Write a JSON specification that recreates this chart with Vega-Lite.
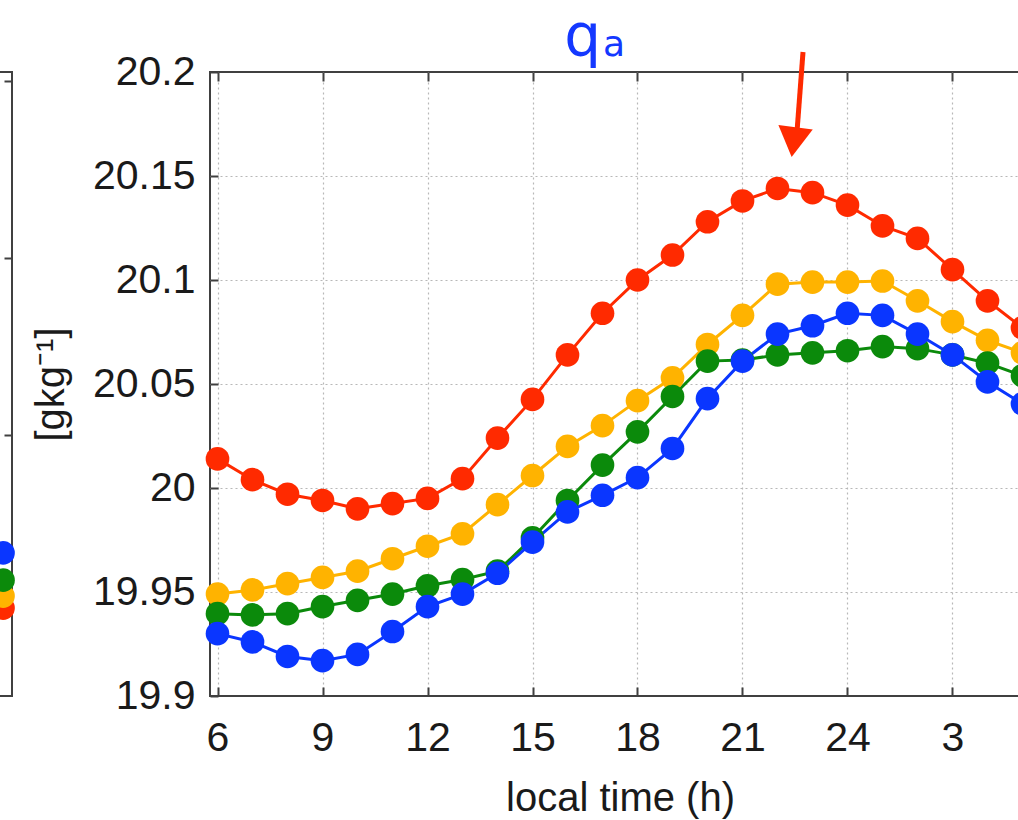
{
  "$schema": "https://vega.github.io/schema/vega-lite/v6.json",
  "background": "white",
  "padding": {"left": -29, "top": 8, "right": -18, "bottom": 0},
  "bounds": "flush",
  "spacing": 198,
  "config": {
    "view": {"stroke": "#404040", "strokeWidth": 2},
    "font": "Liberation Sans",
    "axis": {"labelFont": "Liberation Sans", "titleFont": "Liberation Sans", "labelColor": "#1a1a1a", "titleColor": "#1a1a1a"}
  },
  "datasets": {
    "left": [
      {"hour": 29, "value": 24.511, "series": "red"},
      {"hour": 29, "value": 24.545, "series": "orange"},
      {"hour": 29, "value": 24.590, "series": "green"},
      {"hour": 29, "value": 24.667, "series": "blue"}
    ],
    "main": [
      {"hour": 6, "q": 20.014, "series": "red"},
      {"hour": 7, "q": 20.004, "series": "red"},
      {"hour": 8, "q": 19.997, "series": "red"},
      {"hour": 9, "q": 19.994, "series": "red"},
      {"hour": 10, "q": 19.990, "series": "red"},
      {"hour": 11, "q": 19.9925, "series": "red"},
      {"hour": 12, "q": 19.995, "series": "red"},
      {"hour": 13, "q": 20.0045, "series": "red"},
      {"hour": 14, "q": 20.024, "series": "red"},
      {"hour": 15, "q": 20.0426, "series": "red"},
      {"hour": 16, "q": 20.064, "series": "red"},
      {"hour": 17, "q": 20.084, "series": "red"},
      {"hour": 18, "q": 20.100, "series": "red"},
      {"hour": 19, "q": 20.112, "series": "red"},
      {"hour": 20, "q": 20.128, "series": "red"},
      {"hour": 21, "q": 20.138, "series": "red"},
      {"hour": 22, "q": 20.144, "series": "red"},
      {"hour": 23, "q": 20.142, "series": "red"},
      {"hour": 24, "q": 20.136, "series": "red"},
      {"hour": 25, "q": 20.126, "series": "red"},
      {"hour": 26, "q": 20.120, "series": "red"},
      {"hour": 27, "q": 20.105, "series": "red"},
      {"hour": 28, "q": 20.090, "series": "red"},
      {"hour": 29, "q": 20.077, "series": "red"},
      {"hour": 6, "q": 19.949, "series": "orange"},
      {"hour": 7, "q": 19.951, "series": "orange"},
      {"hour": 8, "q": 19.954, "series": "orange"},
      {"hour": 9, "q": 19.957, "series": "orange"},
      {"hour": 10, "q": 19.960, "series": "orange"},
      {"hour": 11, "q": 19.966, "series": "orange"},
      {"hour": 12, "q": 19.972, "series": "orange"},
      {"hour": 13, "q": 19.978, "series": "orange"},
      {"hour": 14, "q": 19.992, "series": "orange"},
      {"hour": 15, "q": 20.006, "series": "orange"},
      {"hour": 16, "q": 20.020, "series": "orange"},
      {"hour": 17, "q": 20.030, "series": "orange"},
      {"hour": 18, "q": 20.042, "series": "orange"},
      {"hour": 19, "q": 20.053, "series": "orange"},
      {"hour": 20, "q": 20.069, "series": "orange"},
      {"hour": 21, "q": 20.083, "series": "orange"},
      {"hour": 22, "q": 20.098, "series": "orange"},
      {"hour": 23, "q": 20.099, "series": "orange"},
      {"hour": 24, "q": 20.099, "series": "orange"},
      {"hour": 25, "q": 20.0995, "series": "orange"},
      {"hour": 26, "q": 20.090, "series": "orange"},
      {"hour": 27, "q": 20.080, "series": "orange"},
      {"hour": 28, "q": 20.071, "series": "orange"},
      {"hour": 29, "q": 20.065, "series": "orange"},
      {"hour": 6, "q": 19.9396, "series": "green"},
      {"hour": 7, "q": 19.939, "series": "green"},
      {"hour": 8, "q": 19.9396, "series": "green"},
      {"hour": 9, "q": 19.943, "series": "green"},
      {"hour": 10, "q": 19.946, "series": "green"},
      {"hour": 11, "q": 19.949, "series": "green"},
      {"hour": 12, "q": 19.953, "series": "green"},
      {"hour": 13, "q": 19.956, "series": "green"},
      {"hour": 14, "q": 19.960, "series": "green"},
      {"hour": 15, "q": 19.976, "series": "green"},
      {"hour": 16, "q": 19.994, "series": "green"},
      {"hour": 17, "q": 20.011, "series": "green"},
      {"hour": 18, "q": 20.027, "series": "green"},
      {"hour": 19, "q": 20.044, "series": "green"},
      {"hour": 20, "q": 20.061, "series": "green"},
      {"hour": 21, "q": 20.0615, "series": "green"},
      {"hour": 22, "q": 20.064, "series": "green"},
      {"hour": 23, "q": 20.065, "series": "green"},
      {"hour": 24, "q": 20.066, "series": "green"},
      {"hour": 25, "q": 20.068, "series": "green"},
      {"hour": 26, "q": 20.067, "series": "green"},
      {"hour": 27, "q": 20.064, "series": "green"},
      {"hour": 28, "q": 20.060, "series": "green"},
      {"hour": 29, "q": 20.054, "series": "green"},
      {"hour": 6, "q": 19.930, "series": "blue"},
      {"hour": 7, "q": 19.926, "series": "blue"},
      {"hour": 8, "q": 19.919, "series": "blue"},
      {"hour": 9, "q": 19.917, "series": "blue"},
      {"hour": 10, "q": 19.920, "series": "blue"},
      {"hour": 11, "q": 19.931, "series": "blue"},
      {"hour": 12, "q": 19.943, "series": "blue"},
      {"hour": 13, "q": 19.949, "series": "blue"},
      {"hour": 14, "q": 19.959, "series": "blue"},
      {"hour": 15, "q": 19.974, "series": "blue"},
      {"hour": 16, "q": 19.9885, "series": "blue"},
      {"hour": 17, "q": 19.9965, "series": "blue"},
      {"hour": 18, "q": 20.005, "series": "blue"},
      {"hour": 19, "q": 20.019, "series": "blue"},
      {"hour": 20, "q": 20.043, "series": "blue"},
      {"hour": 21, "q": 20.061, "series": "blue"},
      {"hour": 22, "q": 20.074, "series": "blue"},
      {"hour": 23, "q": 20.078, "series": "blue"},
      {"hour": 24, "q": 20.084, "series": "blue"},
      {"hour": 25, "q": 20.083, "series": "blue"},
      {"hour": 26, "q": 20.074, "series": "blue"},
      {"hour": 27, "q": 20.064, "series": "blue"},
      {"hour": 28, "q": 20.051, "series": "blue"},
      {"hour": 29, "q": 20.0405, "series": "blue"}
    ],
    "arrow": [{"hour": 22.729, "hour2": 22.557, "q": 20.2096, "q2": 20.1712}],
    "arrowhead": [{"hour": 22.46, "q": 20.1663}],
    "title_q": [{"hour": 16.43, "q": 20.2077, "txt": "q"}],
    "title_a": [{"hour": 17.33, "q": 20.2077, "txt": "a"}]
  },
  "hconcat": [
    {
      "width": 40,
      "height": 624,
      "data": {"name": "left"},
      "mark": {"type": "point", "filled": true, "size": 560, "opacity": 1, "strokeWidth": 0},
      "encoding": {
        "x": {"field": "hour", "type": "quantitative", "scale": {"domain": [28.114, 29.257], "nice": false, "zero": false}, "axis": null},
        "y": {"field": "value", "type": "quantitative", "scale": {"domain": [24.2627, 26.0254], "nice": false, "zero": false},
              "axis": {"orient": "right", "values": [24.5, 25, 25.5, 26], "labels": false, "domain": false, "grid": false, "tickSize": -8, "tickWidth": 2, "tickColor": "#404040", "title": null}},
        "color": {"field": "series", "type": "nominal", "scale": {"domain": ["red", "orange", "green", "blue"], "range": ["#ff2a00", "#ffb300", "#0b8a0b", "#0a36ff"]}, "legend": null}
      }
    },
    {
      "width": 820,
      "height": 624,
      "layer": [
        {
          "data": {"name": "main"},
          "mark": {"type": "line", "strokeWidth": 3},
          "encoding": {
            "x": {"field": "hour", "type": "quantitative", "scale": {"domain": [5.7857, 29.2143], "nice": false, "zero": false},
                  "axis": {"orient": "top", "values": [6, 9, 12, 15, 18, 21, 24, 27], "labels": false, "domain": false, "grid": false, "tickSize": -9, "tickWidth": 2, "tickColor": "#404040", "title": null}},
            "y": {"field": "q", "type": "quantitative", "scale": {"domain": [19.9, 20.2], "nice": false, "zero": false},
                  "axis": {"orient": "left", "values": [19.9, 19.95, 20, 20.05, 20.1, 20.15, 20.2], "format": "~g", "labelFontSize": 41, "labelPadding": 23, "tickSize": -8, "tickWidth": 2, "tickColor": "#404040", "domain": false, "grid": true, "gridColor": "#b8b8b8", "gridDash": [2, 3], "gridWidth": 1.2, "gridOpacity": {"condition": {"test": "datum.value <= 19.9 || datum.value >= 20.2", "value": 0}, "value": 1}, "title": "[gkg⁻¹]", "titleFontSize": 40, "titleFontWeight": "normal", "titlePadding": 21}},
            "color": {"field": "series", "type": "nominal", "scale": {"domain": ["red", "orange", "green", "blue"], "range": ["#ff2a00", "#ffb300", "#0b8a0b", "#0a36ff"]}, "legend": null}
          }
        },
        {
          "data": {"name": "main"},
          "mark": {"type": "point", "filled": true, "size": 560, "opacity": 1, "strokeWidth": 0},
          "encoding": {
            "x": {"field": "hour", "type": "quantitative", "scale": {"domain": [5.7857, 29.2143], "nice": false, "zero": false},
                  "axis": {"orient": "bottom", "values": [6, 9, 12, 15, 18, 21, 24, 27], "labelExpr": "datum.value > 24 ? datum.value - 24 : datum.value", "labelFlush": false, "labelFontSize": 41, "labelPadding": 31, "tickSize": -9, "tickWidth": 2, "tickColor": "#404040", "domain": false, "grid": true, "gridColor": "#b8b8b8", "gridDash": [2, 3], "gridWidth": 1.2, "title": "local time (h)", "titleFontSize": 40, "titleFontWeight": "normal", "titlePadding": 20}},
            "y": {"field": "q", "type": "quantitative", "scale": {"domain": [19.9, 20.2], "nice": false, "zero": false},
                  "axis": {"orient": "left", "values": [19.9, 19.95, 20, 20.05, 20.1, 20.15, 20.2], "format": "~g", "labelFontSize": 41, "labelPadding": 23, "tickSize": -8, "tickWidth": 2, "tickColor": "#404040", "domain": false, "grid": true, "gridColor": "#b8b8b8", "gridDash": [2, 3], "gridWidth": 1.2, "gridOpacity": {"condition": {"test": "datum.value <= 19.9 || datum.value >= 20.2", "value": 0}, "value": 1}, "title": "[gkg⁻¹]", "titleFontSize": 40, "titleFontWeight": "normal", "titlePadding": 21}},
            "color": {"field": "series", "type": "nominal", "scale": {"domain": ["red", "orange", "green", "blue"], "range": ["#ff2a00", "#ffb300", "#0b8a0b", "#0a36ff"]}, "legend": null}
          }
        },
        {
          "data": {"name": "arrow"},
          "mark": {"type": "rule", "color": "#ff2a00", "strokeWidth": 5, "strokeCap": "butt"},
          "encoding": {
            "x": {"field": "hour", "type": "quantitative", "scale": {"domain": [5.7857, 29.2143], "nice": false, "zero": false}, "axis": null},
            "x2": {"field": "hour2"},
            "y": {"field": "q", "type": "quantitative", "scale": {"domain": [19.9, 20.2], "nice": false, "zero": false},
                  "axis": {"orient": "left", "values": [19.9, 19.95, 20, 20.05, 20.1, 20.15, 20.2], "format": "~g", "labelFontSize": 41, "labelPadding": 23, "tickSize": -8, "tickWidth": 2, "tickColor": "#404040", "domain": false, "grid": true, "gridColor": "#b8b8b8", "gridDash": [2, 3], "gridWidth": 1.2, "gridOpacity": {"condition": {"test": "datum.value <= 19.9 || datum.value >= 20.2", "value": 0}, "value": 1}, "title": "[gkg⁻¹]", "titleFontSize": 40, "titleFontWeight": "normal", "titlePadding": 21}},
            "y2": {"field": "q2"}
          }
        },
        {
          "data": {"name": "arrowhead"},
          "mark": {"type": "point", "shape": "triangle-down", "filled": true, "size": 1200, "angle": 7.5, "color": "#ff2a00", "opacity": 1, "strokeWidth": 0},
          "encoding": {
            "x": {"field": "hour", "type": "quantitative", "scale": {"domain": [5.7857, 29.2143], "nice": false, "zero": false}, "axis": null},
            "y": {"field": "q", "type": "quantitative", "scale": {"domain": [19.9, 20.2], "nice": false, "zero": false},
                  "axis": {"orient": "left", "values": [19.9, 19.95, 20, 20.05, 20.1, 20.15, 20.2], "format": "~g", "labelFontSize": 41, "labelPadding": 23, "tickSize": -8, "tickWidth": 2, "tickColor": "#404040", "domain": false, "grid": true, "gridColor": "#b8b8b8", "gridDash": [2, 3], "gridWidth": 1.2, "gridOpacity": {"condition": {"test": "datum.value <= 19.9 || datum.value >= 20.2", "value": 0}, "value": 1}, "title": "[gkg⁻¹]", "titleFontSize": 40, "titleFontWeight": "normal", "titlePadding": 21}}
          }
        },
        {
          "data": {"name": "title_q"},
          "mark": {"type": "text", "font": "DejaVu Sans", "fontSize": 58, "color": "#1438ff", "align": "center", "baseline": "alphabetic"},
          "encoding": {
            "x": {"field": "hour", "type": "quantitative", "scale": {"domain": [5.7857, 29.2143], "nice": false, "zero": false}, "axis": null},
            "y": {"field": "q", "type": "quantitative", "scale": {"domain": [19.9, 20.2], "nice": false, "zero": false},
                  "axis": {"orient": "left", "values": [19.9, 19.95, 20, 20.05, 20.1, 20.15, 20.2], "format": "~g", "labelFontSize": 41, "labelPadding": 23, "tickSize": -8, "tickWidth": 2, "tickColor": "#404040", "domain": false, "grid": true, "gridColor": "#b8b8b8", "gridDash": [2, 3], "gridWidth": 1.2, "gridOpacity": {"condition": {"test": "datum.value <= 19.9 || datum.value >= 20.2", "value": 0}, "value": 1}, "title": "[gkg⁻¹]", "titleFontSize": 40, "titleFontWeight": "normal", "titlePadding": 21}},
            "text": {"field": "txt"}
          }
        },
        {
          "data": {"name": "title_a"},
          "mark": {"type": "text", "font": "DejaVu Sans", "fontSize": 36, "color": "#1438ff", "align": "center", "baseline": "alphabetic"},
          "encoding": {
            "x": {"field": "hour", "type": "quantitative", "scale": {"domain": [5.7857, 29.2143], "nice": false, "zero": false}, "axis": null},
            "y": {"field": "q", "type": "quantitative", "scale": {"domain": [19.9, 20.2], "nice": false, "zero": false},
                  "axis": {"orient": "left", "values": [19.9, 19.95, 20, 20.05, 20.1, 20.15, 20.2], "format": "~g", "labelFontSize": 41, "labelPadding": 23, "tickSize": -8, "tickWidth": 2, "tickColor": "#404040", "domain": false, "grid": true, "gridColor": "#b8b8b8", "gridDash": [2, 3], "gridWidth": 1.2, "gridOpacity": {"condition": {"test": "datum.value <= 19.9 || datum.value >= 20.2", "value": 0}, "value": 1}, "title": "[gkg⁻¹]", "titleFontSize": 40, "titleFontWeight": "normal", "titlePadding": 21}},
            "text": {"field": "txt"}
          }
        }
      ],
      "resolve": {"axis": {"x": "independent"}}
    }
  ]
}
